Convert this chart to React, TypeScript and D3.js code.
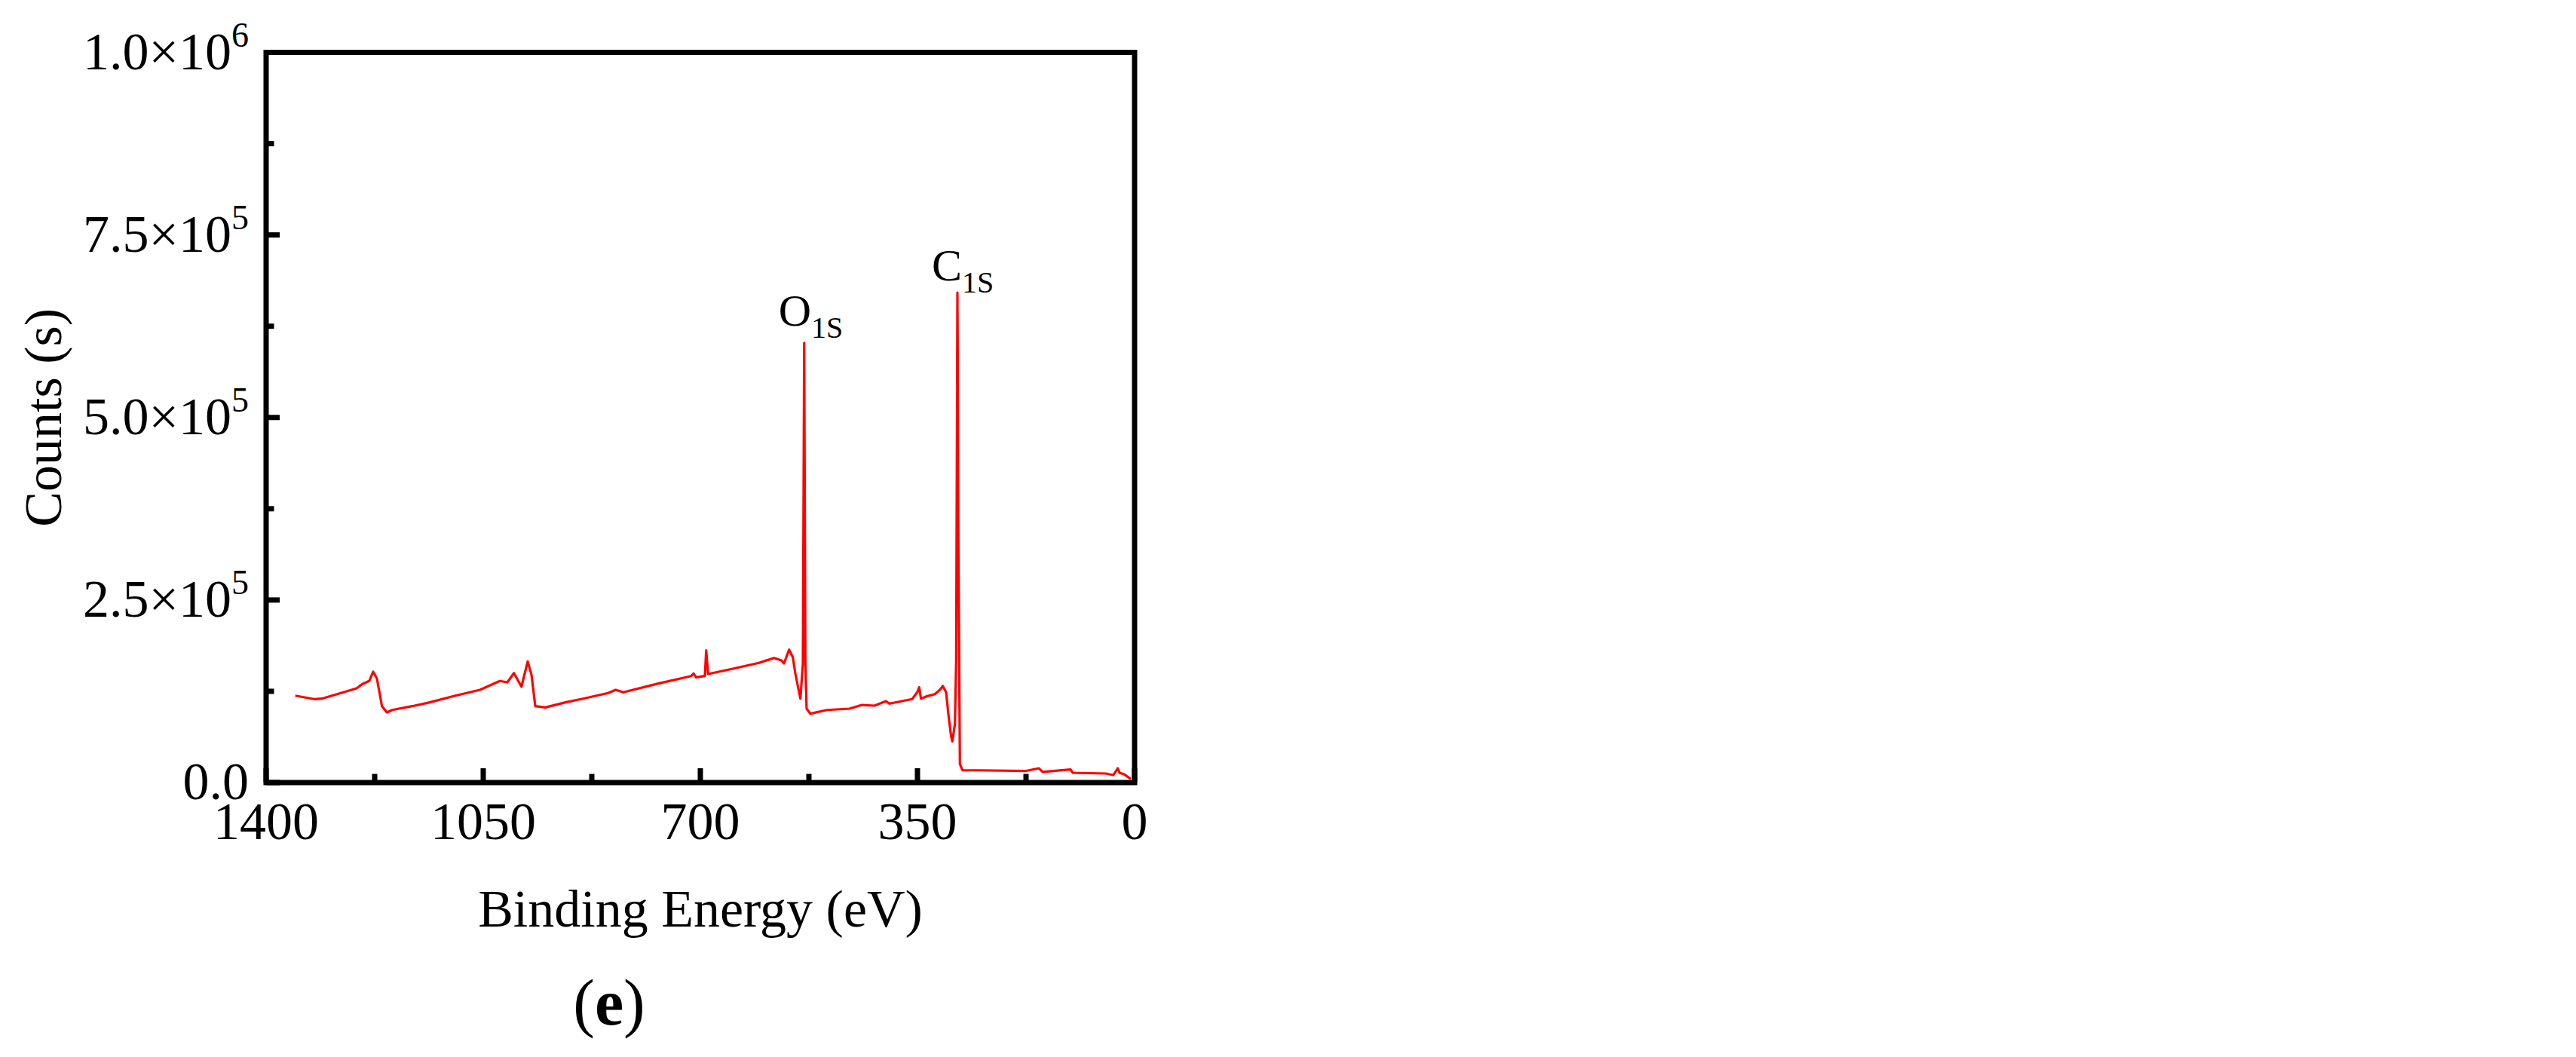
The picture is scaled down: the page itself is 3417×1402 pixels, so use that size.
import * as d3 from 'd3';

// XPS survey spectrum (binding energy in eV, counts in thousands)
const energy = [
  1353, 1322.6, 1310.4, 1278.5, 1254.2, 1245.7, 1233.5, 1227.4, 1221.4, 1213.2,
  1205.2, 1197.0, 1164.6, 1136.3, 1096.2, 1055.2, 1023.3, 1011.1, 1000.5, 988.4,
  978.3, 972.2, 966.1, 950.0, 917.5, 889.2, 848.6, 836.5, 824.3, 767.7,
  714.9, 710.9, 706.9, 692.7, 690.6, 687.5, 646.2, 605.6, 581.3, 569.1,
  565.1, 557.0, 550.9, 546.9, 538.7, 534.7, 532.6, 530.7, 528.7, 522.6,
  496.2, 459.7, 439.6, 419.3, 401.0, 395.0, 358.5, 350.4, 347.2, 344.3,
  334.2, 322.0, 313.9, 309.1, 303.8, 299.8, 295.7, 293.7, 289.6, 287.6,
  285.6, 285.0, 284.2, 282.2, 281.6, 277.4, 249.1, 176.2, 154.3, 148.2,
  103.3, 99.6, 46.5, 34.4, 27.1, 24.3, 16.2, 6.1,
];
const counts = [
  119.0, 114.3, 114.9, 122.9, 129.1, 134.5, 139.4, 151.8, 142.5, 104.6,
  96.0, 99.4, 104.6, 109.8, 118.7, 127.0, 139.1, 137.3, 150.0, 131.4,
  165.9, 147.6, 104.6, 102.9, 109.8, 114.9, 122.6, 127.0, 123.6, 135.6,
  145.9, 149.4, 144.2, 145.9, 181.0, 148.7, 156.2, 163.9, 170.7, 167.3,
  163.1, 182.0, 171.7, 149.4, 114.9, 163.1, 602.0, 163.0, 101.2, 94.3,
  99.4, 101.2, 106.3, 105.3, 111.5, 108.1, 114.3, 123.6, 130.4, 114.9,
  118.4, 121.1, 127.0, 132.2, 123.6, 90.9, 63.3, 56.5, 80.5, 166.5,
  671.1, 565, 349, 98.1, 25.5, 16.8, 16.8, 15.8, 19.6, 14.5,
  17.9, 13.4, 12.4, 10.3, 19.6, 13.4, 11.0, 4.9,
];

const xTicks = [1400, 1050, 700, 350, 0];
const xMinorTicks = [1225, 875, 525, 175];
const yTicks = [0, 250, 500, 750, 1000];
const yMinorTicks = [125, 375, 625, 875];
const yTickMantissa = ['0.0', '2.5', '5.0', '7.5', '1.0'];
const yTickExponent = ['', '5', '5', '5', '6'];

// peak annotations: label anchor in data units
const peakNames = ['O', 'C'];
const peakSubs = ['1S', '1S'];
const peakLabelEnergy = [574, 327];
const peakLabelCounts = [626, 688];

const W = 3417;
const H = 1402;
const margin = { left: 353, right: 3417 - 1505, top: 69.5, bottom: 1402 - 1038 };
const font = '"Liberation Serif", "Times New Roman", serif';

export default function App() {
  const x = d3.scaleLinear().domain([1400, 0]).range([margin.left, W - margin.right]);
  const y = d3.scaleLinear().domain([0, 1000]).range([H - margin.bottom, margin.top]);
  const [x0, x1] = x.range();
  const [yb, yt] = y.range();

  const pts = energy.map((e, i) => [e, counts[i]] as [number, number]);
  const line = d3.line<[number, number]>()
    .x(d => x(d[0]))
    .y(d => y(d[1]));

  return (
    <>
      <style>{'body{margin:0;background:#fff}'}</style>
      <svg width={W} height={H} style={{ display: 'block' }} fontFamily={font}>
        <rect x={0} y={0} width={W} height={H} fill="#fff" />

        <path d={line(pts) || ''} fill="none" stroke="#ff0000" strokeWidth={3.2} strokeLinejoin="round" />

        {/* bottom ticks, pointing inward */}
        {xTicks.map(t => (
          <line key={'xt' + t} x1={x(t)} x2={x(t)} y1={yb} y2={yb - 19} stroke="#000" strokeWidth={7} />
        ))}
        {xMinorTicks.map(t => (
          <line key={'xm' + t} x1={x(t)} x2={x(t)} y1={yb} y2={yb - 11.5} stroke="#000" strokeWidth={7} />
        ))}
        {/* left ticks */}
        {yTicks.map(t => (
          <line key={'yt' + t} x1={x0} x2={x0 + 18} y1={y(t)} y2={y(t)} stroke="#000" strokeWidth={7} />
        ))}
        {yMinorTicks.map(t => (
          <line key={'ym' + t} x1={x0} x2={x0 + 10.5} y1={y(t)} y2={y(t)} stroke="#000" strokeWidth={7} />
        ))}

        <rect x={x0} y={yt} width={x1 - x0} height={yb - yt} fill="none" stroke="#000" strokeWidth={7} />

        {xTicks.map(t => (
          <text key={'xl' + t} x={x(t)} y={yb + 75} fontSize={70} textAnchor="middle" fill="#000">
            {t}
          </text>
        ))}

        {yTicks.map((t, i) => (
          <text key={'yl' + t} x={x0 - 23} y={y(t) + 22} fontSize={70} textAnchor="end" fill="#000">
            {yTickMantissa[i]}
            {yTickExponent[i] && (
              <>
                <tspan>×10</tspan>
                <tspan fontSize={46} dy={-30}>{yTickExponent[i]}</tspan>
              </>
            )}
          </text>
        ))}

        {peakNames.map((n, i) => (
          <text key={'pk' + n} x={x(peakLabelEnergy[i])} y={y(peakLabelCounts[i])} fontSize={60} fill="#000">
            {n}
            <tspan fontSize={40} dy={16}>{peakSubs[i]}</tspan>
          </text>
        ))}

        <text x={(x0 + x1) / 2} y={1229} fontSize={70} textAnchor="middle" fill="#000">
          Binding Energy (eV)
        </text>
        <text
          transform={`translate(81,${(yb + yt) / 2}) rotate(-90)`}
          fontSize={70}
          textAnchor="middle"
          fill="#000"
        >
          Counts (s)
        </text>

        <text x={808} y={1359} fontSize={86} textAnchor="middle" fill="#000">
          (<tspan fontWeight="bold">e</tspan>)
        </text>
      </svg>
    </>
  );
}
